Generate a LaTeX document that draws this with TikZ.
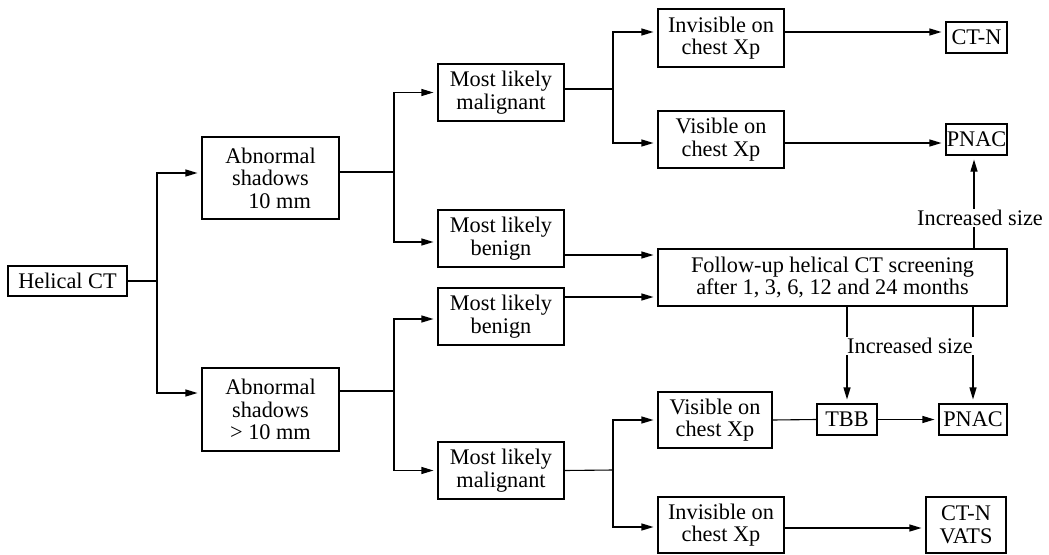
\documentclass[tikz,border=0pt]{standalone}
\usepackage{fontspec}
\setmainfont{Liberation Serif}
\usetikzlibrary{arrows.meta}
\begin{document}
\begin{tikzpicture}[x=1pt,y=-1pt,
  box/.style={draw, line width=1.1pt, align=center, inner sep=0pt,
    font=\fontsize{22.3}{22.5}\selectfont},
  lbl/.style={fill=white, inner sep=1pt, font=\fontsize{22.3}{22.5}\selectfont},
  plain/.style={line width=1.1pt},
  link/.style={line width=1.1pt, -{Triangle[length=12pt,width=7pt]}, shorten >=4pt}]

\useasboundingbox (0,0) rectangle (1049,554);

% Start and first split
\node[box, minimum width=119pt, minimum height=30pt] (hct) at (67.5,281) {Helical CT};
\node[box, minimum width=137pt, minimum height=82pt] (abn1) at (270.5,178) {Abnormal\\shadows\\\phantom{>} 10 mm};
\node[box, minimum width=137pt, minimum height=83pt] (abn2) at (270.5,409.5) {Abnormal\\shadows\\> 10 mm};

% Second split
\node[box, minimum width=126pt, minimum height=57pt] (mal1) at (501,92.5) {Most likely\\malignant};
\node[box, minimum width=126pt, minimum height=57pt] (ben1) at (501,238.5) {Most likely\\benign};
\node[box, minimum width=126pt, minimum height=57pt] (ben2) at (501,316.5) {Most likely\\benign};
\node[box, minimum width=126pt, minimum height=57pt] (mal2) at (501,470.5) {Most likely\\malignant};

% Chest Xp boxes and follow-up
\node[box, minimum width=126pt, minimum height=58pt] (inv1) at (721,38) {Invisible on\\chest Xp};
\node[box, minimum width=126pt, minimum height=57pt] (vis1) at (721,139.5) {Visible on\\chest Xp};
\node[box, minimum width=349pt, minimum height=57pt] (fup) at (832.5,277.5) {Follow-up helical CT screening\\after 1, 3, 6, 12 and 24 months};
\node[box, minimum width=114pt, minimum height=56pt] (vis2) at (715,420) {Visible on\\chest Xp};
\node[box, minimum width=126pt, minimum height=56pt] (inv2) at (721,525) {Invisible on\\chest Xp};

% Outcomes
\node[box, minimum width=61pt, minimum height=31pt] (ctn) at (976.5,37.5) {CT-N};
\node[box, minimum width=61pt, minimum height=31pt] (pnac1) at (976.5,139.5) {PNAC};
\node[box, minimum width=60pt, minimum height=31pt] (tbb) at (847,419.5) {TBB};
\node[box, minimum width=68pt, minimum height=31pt] (pnac2) at (973,419.5) {PNAC};
\node[box, minimum width=80pt, minimum height=56pt] (ctnv) at (966,525) {CT-N\\VATS};

% Fork points
\coordinate (f1) at (157,281);
\coordinate (f2) at (394,172);
\coordinate (f3) at (394,391);
\coordinate (f4) at (613,89);
\coordinate (f5) at (613,470);

% Branches from Helical CT
\draw[plain] (hct.east) -- (f1);
\draw[link] (f1) |- ([yshift=5pt]abn1.west);
\draw[link] (f1) |- ([yshift=16.5pt]abn2.west);

% Branches from the shadows
\draw[plain] ([yshift=6pt]abn1.east) -- (f2);
\draw[link] (f2) |- (mal1.west);
\draw[link] (f2) |- ([yshift=-3.5pt]ben1.west);
\draw[plain] ([yshift=18.5pt]abn2.east) -- (f3);
\draw[link] (f3) |- ([yshift=-2.5pt]ben2.west);
\draw[link] (f3) |- (mal2.west);

% Branches from malignant boxes
\draw[plain] ([yshift=3.5pt]mal1.east) -- (f4);
\draw[link] (f4) |- ([yshift=6pt]inv1.west);
\draw[link] (f4) |- ([yshift=-3.5pt]vis1.west);
\draw[plain] (mal2.east) -- (f5);
\draw[link] (f5) |- (vis2.west);
\draw[link] (f5) |- ([yshift=-2pt]inv2.west);

% Benign boxes into follow-up
\draw[link] ([yshift=-16.5pt]ben1.east) -- ([yshift=-16.5pt]ben1.east -| fup.west);
\draw[link] ([yshift=19.5pt]ben2.east) -- ([yshift=19.5pt]ben2.east -| fup.west);

% Chest Xp to outcomes
\draw[link] ([yshift=6pt]inv1.east) -- ([yshift=6pt]inv1.east -| ctn.west);
\draw[link] ([yshift=-3.5pt]vis1.east) -- ([yshift=-3.5pt]vis1.east -| pnac1.west);
\draw[plain] (vis2.east) -- (tbb.west);
\draw[link] (tbb.east) -- (pnac2.west);
\draw[link] ([yshift=-3pt]inv2.east) -- ([yshift=-3pt]inv2.east -| ctnv.west);

% Follow-up with increased size
\draw[link] ([xshift=-2.5pt]pnac1.south |- fup.north) -- ([xshift=-2.5pt]pnac1.south);
\draw[link] (tbb.north |- fup.south) -- (tbb.north);
\draw[link] (pnac2.north |- fup.south) -- (pnac2.north);
\node[lbl] (inc1) at (980,218) {Increased size};
\node[lbl] (inc2) at (910,346) {Increased size};

\end{tikzpicture}
\end{document}
